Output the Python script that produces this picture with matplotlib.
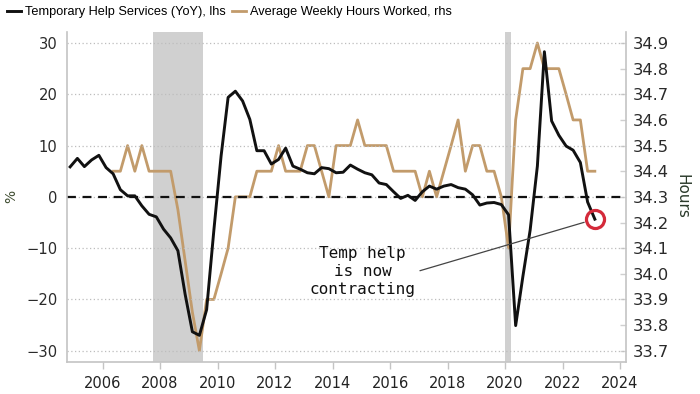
import matplotlib
matplotlib.use("Agg")
import matplotlib.pyplot as plt
import matplotlib.dates as mdates
import numpy as np
import pandas as pd

# quarterly observations, first one Nov 2004
temp_help = [5.85, 7.5, 5.9, 7.2, 8.1, 5.7, 4.5, 1.4, 0.2, 0.2,
             -1.75, -3.4, -3.9, -6.3, -8.0, -10.5, -19.0, -26.3, -27.0, -22.0,
             -6.5, 8.0, 19.4, 20.6, 18.7, 15.1, 9.0, 9.0, 6.4, 7.3,
             9.5, 6.0, 5.4, 4.7, 4.5, 5.7, 5.5, 4.7, 4.8, 6.2,
             5.4, 4.7, 4.3, 2.7, 2.4, 1.0, -0.3, 0.3, -0.7, 1.0,
             2.1, 1.5, 2.1, 2.4, 1.8, 1.5, 0.4, -1.6, -1.2, -1.1,
             -1.5, -3.5, -25.1, -15.5, -6.5, 6.0, 28.3, 14.8, 12.0, 9.9,
             9.1, 6.7, -1.0, -4.35]
# average weekly hours, starts May 2006
hours = [34.4, 34.4, 34.5, 34.4, 34.5, 34.4, 34.4, 34.4, 34.4, 34.25,
         34.05, 33.85, 33.7, 33.9, 33.9, 34.0, 34.1, 34.3, 34.3, 34.3,
         34.4, 34.4, 34.4, 34.5, 34.4, 34.4, 34.4, 34.5, 34.5, 34.4,
         34.3, 34.5, 34.5, 34.5, 34.6, 34.5, 34.5, 34.5, 34.5, 34.4,
         34.4, 34.4, 34.4, 34.3, 34.4, 34.3, 34.4, 34.5, 34.6, 34.4,
         34.5, 34.5, 34.4, 34.4, 34.3, 34.1, 34.6, 34.8, 34.8, 34.9,
         34.8, 34.8, 34.8, 34.7, 34.6, 34.6, 34.4, 34.4]
temp_dates = pd.date_range("2004-11-15", periods=len(temp_help), freq=pd.DateOffset(months=3))
hours_dates = pd.date_range("2006-05-15", periods=len(hours), freq=pd.DateOffset(months=3))
recessions = [("2007-10-01", "2009-06-25"), ("2020-01-01", "2020-03-20")]

left_ticks = [-30, -20, -10, 0, 10, 20, 30]
right_ticks = [33.7, 33.8, 33.9, 34.0, 34.1, 34.2, 34.3, 34.4, 34.5, 34.6, 34.7, 34.8, 34.9]

BLACK = "#111111"
TAN = "#c29b6b"
GRID = "#bdbdbd"
SPINE = "#c4c4c4"

fig = plt.figure(figsize=(7, 3.94), dpi=100)
ax = fig.add_axes([0.0957, 0.0812, 0.7986, 0.8383])
ax2 = ax.twinx()
ax.set_zorder(ax2.get_zorder() + 1)
ax.patch.set_visible(False)

# recession shading sits behind everything
for start, end in recessions:
    ax2.axvspan(pd.Timestamp(start), pd.Timestamp(end), color="#d0d0d0", lw=0, zorder=0)

l2, = ax2.plot(hours_dates, hours, color=TAN, lw=2.0, zorder=2)

ax.yaxis.grid(True, linestyle=(0, (1, 2)), color=GRID, linewidth=0.9)
ax.axhline(0, color=BLACK, linestyle=(0, (4, 3)), linewidth=1.6, zorder=2)
l1, = ax.plot(temp_dates, temp_help, color=BLACK, lw=2.1, zorder=3)

# limits
ax.set_xlim(pd.Timestamp("2004-10-06"), pd.Timestamp("2024-03-17"))
ax.set_ylim(-32.2, 32.2)
ax2.set_ylim(34.3 - 0.644, 34.3 + 0.644)

# x axis
ax.xaxis.set_major_locator(mdates.YearLocator(2))
ax.xaxis.set_major_formatter(mdates.DateFormatter("%Y"))
ax.tick_params(axis="x", direction="out", length=5, width=1, color=SPINE,
               labelsize=10.5, labelcolor="#222222", pad=5)

# left axis
ax.set_yticks(left_ticks)
ax.tick_params(axis="y", length=0, labelsize=10.6, labelcolor="#2a2a2a", pad=7)
ax.set_ylabel("%", fontsize=10, color="#3d4b2f", rotation=90)
ax.yaxis.set_label_coords(-0.088, 0.5)

# right axis
ax2.set_yticks(right_ticks)
ax2.set_yticklabels(["%.1f" % v for v in right_ticks])
ax2.tick_params(axis="y", direction="in", length=4, width=1, color="#cfcfcf",
                labelsize=11.8, labelcolor="#2a2a2a", pad=5)
ax2.set_ylabel("Hours", fontsize=11, color="#2b3a2b", rotation=270, va="center")
ax2.yaxis.set_label_coords(1.101, 0.5)

for s in ["top", "right"]:
    ax.spines[s].set_visible(False)
for s in ["top", "left", "bottom"]:
    ax2.spines[s].set_visible(False)
ax.spines["left"].set_color(SPINE)
ax.spines["bottom"].set_color(SPINE)
ax.spines["left"].set_linewidth(1.2)
ax.spines["bottom"].set_linewidth(1.2)
ax2.spines["right"].set_color(SPINE)
ax2.spines["right"].set_linewidth(1.2)

# highlight latest reading
ax.plot(temp_dates[-1], temp_help[-1], marker="o", markersize=13,
        markerfacecolor="none", markeredgecolor="#d42a3a", markeredgewidth=2.3, zorder=5)
ax.annotate("", xy=(temp_dates[-1], temp_help[-1]),
            xytext=(pd.Timestamp("2017-01-15"), -14.4),
            arrowprops=dict(arrowstyle="-", color="#444444", lw=0.9, shrinkA=0, shrinkB=8),
            zorder=4)
ax.text(pd.Timestamp("2015-01-15"), -14.6, "Temp help\nis now\ncontracting",
        family="DejaVu Sans Mono", fontsize=11.5, ha="center", va="center",
        multialignment="center", linespacing=1.25, color="#111111", zorder=4)

ax.legend([l1, l2], ["Temporary Help Services (YoY), lhs", "Average Weekly Hours Worked, rhs"],
          loc="upper left", bbox_to_anchor=(0.008, 0.988), bbox_transform=fig.transFigure,
          ncol=2, frameon=False, handlelength=1.1, handletextpad=0.3, columnspacing=0.5,
          borderaxespad=0, borderpad=0.1,
          prop={"family": "Liberation Sans", "size": 9.2})

fig.savefig("out.png", dpi=100)
